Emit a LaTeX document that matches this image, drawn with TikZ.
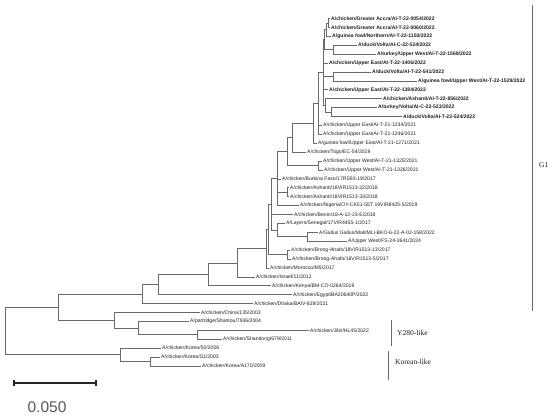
\documentclass[tikz,border=0pt]{standalone}
\usepackage{fontspec}
\setmainfont{Liberation Sans}
\newfontfamily\cladefont{Liberation Serif}
\definecolor{brc}{RGB}{105,105,105}
\definecolor{txc}{RGB}{30,30,30}
\begin{document}
\begin{tikzpicture}[x=1pt,y=-1pt,
  br/.style={draw=brc,line width=0.7pt},
  leaf/.style={anchor=west,inner xsep=1.5pt,inner ysep=0pt,text=txc,font=\fontsize{5.1}{6}\selectfont},
  bleaf/.style={leaf,font=\fontsize{5.1}{6}\selectfont\bfseries},
  cladebar/.style={draw=brc,line width=0.8pt},
  cladelab/.style={anchor=west,inner sep=0pt,text=txc,font=\cladefont\fontsize{7.5}{9}\selectfont}]
\useasboundingbox (0,0) rectangle (550,418);
% leaves
\node[bleaf] (l1) at (329.5,18.5) {A/chicken/Greater Accra/AI-T-22-0054/2022};
\node[bleaf] (l2) at (329.5,27.4) {A/chicken/Greater Accra/AI-T-22-0060/2022};
\node[bleaf] (l3) at (330.5,36.3) {A/guinea fowl/Northern/AI-T-22-1150/2022};
\node[bleaf] (l4) at (356.5,45.2) {A/duck/Volta/AI-C-22-524/2022};
\node[bleaf] (l5) at (375.5,54.1) {A/turkey/Upper West/AI-T-22-1569/2022};
\node[bleaf] (l6) at (327.5,63.1) {A/chicken/Upper East/AI-T-22-1406/2022};
\node[bleaf] (l7) at (370.5,72.0) {A/duck/Volta/AI-T-22-541/2022};
\node[bleaf] (l8) at (416.5,80.9) {A/guinea fowl/Upper West/AI-T-22-1529/2022};
\node[bleaf] (l9) at (327.5,89.8) {A/chicken/Upper East/AI-T-22-1384/2022};
\node[bleaf] (l10) at (381.5,98.7) {A/chicken/Ashanti/AI-T-22-856/2022};
\node[bleaf] (l11) at (376.5,107.6) {A/turkey/Volta/AI-C-22-523/2022};
\node[bleaf] (l12) at (401.5,116.5) {A/duck/Volta/AI-T-22-524/2022};
\node[leaf] (l13) at (321.5,125.4) {A/chicken/Upper East/AI-T-21-1234/2021};
\node[leaf] (l14) at (321.5,134.3) {A/chicken/Upper East/AI-T-21-1246/2021};
\node[leaf] (l15) at (316.5,143.3) {A/guinea fowl/Upper East/AI-T-21-1271/2021};
\node[leaf] (l16) at (305.5,152.2) {A/chicken/Togo/EC-54/2019};
\node[leaf] (l17) at (321.5,161.1) {A/chicken/Upper West/AI-T-21-1325/2021};
\node[leaf] (l18) at (322.5,170.0) {A/chicken/Upper West/AI-T-21-1326/2021};
\node[leaf] (l19) at (280.5,178.9) {A/chicken/Burkina Faso/17RS93-19/2017};
\node[leaf] (l20) at (288.5,187.8) {A/chicken/Ashanti/18VIR1513-22/2018};
\node[leaf] (l21) at (288.5,196.7) {A/chicken/Ashanti/18VIR1513-33/2018};
\node[leaf] (l22) at (298.5,205.6) {A/chicken/Nigeria/OY-CK51-55T 19VIR8425-5/2019};
\node[leaf] (l23) at (292.5,214.5) {A/chicken/Benin/18-A-12-23-E/2018};
\node[leaf] (l24) at (284.5,223.4) {A/Layers/Senegal/17VIR4455-1/2017};
\node[leaf] (l25) at (317.5,232.3) {A/Gallus Gallus/Mali/MLI-BKO-6-22-A-02-158/2022};
\node[leaf] (l26) at (346.5,241.2) {A/Upper West/FS-24-2641/2024};
\node[leaf] (l27) at (289.5,250.1) {A/chicken/Brong-Ahafo/18VIR1513-13/2017};
\node[leaf] (l28) at (290.5,259.0) {A/chicken/Brong-Ahafo/18VIR1513-5/2017};
\node[leaf] (l29) at (268.5,268.0) {A/chicken/Morocco/M5/2017};
\node[leaf] (l30) at (254.5,277.0) {A/chicken/Israel/11/2012};
\node[leaf] (l31) at (270.5,285.8) {A/chicken/Kenya/BM-CO-0264/2019};
\node[leaf] (l32) at (291.5,294.7) {A/chicken/Egypt/BA20640P/2022};
\node[leaf] (l33) at (252.5,303.6) {A/chicken/Dhaka/BAIV-829/2021};
\node[leaf] (l34) at (199.5,312.5) {A/chicken/China/135/2003};
\node[leaf] (l35) at (188.5,321.4) {A/partridge/Shantou/7936/2004};
\node[leaf] (l36) at (308.5,330.3) {A/chicken/Jilin/HL45/2022};
\node[leaf] (l37) at (221.5,339.2) {A/chicken/Shandong/679/2011};
\node[leaf] (l38) at (160.5,348.1) {A/chicken/Korea/50/2006};
\node[leaf] (l39) at (159.5,357.0) {A/chicken/Korea/S1/2003};
\node[leaf] (l40) at (200.5,366.0) {A/chicken/Korea/A170/2009};
% internal nodes
\coordinate (N1) at (328,23.0);
\coordinate (N2) at (326,29.6);
\coordinate (N3) at (333,49.6);
\coordinate (N4) at (324,39.6);
\coordinate (N5) at (333,76.5);
\coordinate (N6) at (331,112.0);
\coordinate (N7) at (325,105.4);
\coordinate (N8) at (323,72.5);
\coordinate (R2) at (318,103.4);
\coordinate (R1) at (313,123.3);
\coordinate (T1) at (292,137.8);
\coordinate (UW) at (318,165.5);
\coordinate (T2) at (287,151.7);
\coordinate (AS) at (287,192.3);
\coordinate (P1) at (277,178.6);
\coordinate (MU) at (307,236.8);
\coordinate (LS) at (277,230.1);
\coordinate (Q1) at (271,204.4);
\coordinate (BA) at (287,254.6);
\coordinate (Q2) at (268,229.5);
\coordinate (Q3) at (266,248.8);
\coordinate (E) at (237,262.9);
\coordinate (D) at (208,274.4);
\coordinate (C) at (158,284.6);
\coordinate (B) at (142,294.1);
\coordinate (H) at (197,334.75);
\coordinate (G) at (138,328.1);
\coordinate (Y) at (114,320.3);
\coordinate (A) at (58,307.2);
\coordinate (I) at (150,361.5);
\coordinate (K) at (120,354.8);
\coordinate (root) at (5,331);
% branches
\draw[br] (N1) |- (l1.west) (N1) |- (l2.west);
\draw[br] (N2) |- (N1) (N2) |- (l3.west);
\draw[br] (N3) |- (l4.west) (N3) |- (l5.west);
\draw[br] (N4) |- (N2) (N4) |- (N3);
\draw[br] (N5) |- (l7.west) (N5) |- (l8.west);
\draw[br] (N6) |- (l11.west) (N6) |- (l12.west);
\draw[br] (N7) |- (l10.west) (N7) |- (N6);
\draw[br] (N8) |- (N4) (N8) |- (l6.west) (N8) |- (N5) (N8) |- (l9.west) (N8) |- (N7);
\draw[br] (R2) |- (N8) (R2) |- (l13.west) (R2) |- (l14.west);
\draw[br] (R1) |- (R2) (R1) |- (l15.west);
\draw[br] (T1) |- (R1) (T1) |- (l16.west);
\draw[br] (UW) |- (l17.west) (UW) |- (l18.west);
\draw[br] (T2) |- (T1) (T2) |- (UW);
\draw[br] (AS) |- (l20.west) (AS) |- (l21.west);
\draw[br] (P1) |- (T2) (P1) |- (l19.west) (P1) |- (AS) (P1) |- (l22.west);
\draw[br] (MU) |- (l25.west) (MU) |- (l26.west);
\draw[br] (LS) |- (l24.west) (LS) |- (MU);
\draw[br] (Q1) |- (P1) (Q1) |- (l23.west) (Q1) |- (LS);
\draw[br] (BA) |- (l27.west) (BA) |- (l28.west);
\draw[br] (Q2) |- (Q1) (Q2) |- (BA);
\draw[br] (Q3) |- (Q2) (Q3) |- (l29.west);
\draw[br] (E) |- (Q3) (E) |- (l30.west);
\draw[br] (D) |- (E) (D) |- (l31.west);
\draw[br] (C) |- (D) (C) |- (l32.west);
\draw[br] (B) |- (C) (B) |- (l33.west);
\draw[br] (H) |- (l36.west) (H) |- (l37.west);
\draw[br] (G) |- (l35.west) (G) |- (H);
\draw[br] (Y) |- (l34.west) (Y) |- (G);
\draw[br] (A) |- (B) (A) |- (Y);
\draw[br] (I) |- (l39.west) (I) |- (l40.west);
\draw[br] (K) |- (l38.west) (K) |- (I);
\draw[br] (root) |- (A) (root) |- (K);
% clade bars
\coordinate (g1t) at (532,5);
\coordinate (g1b) at (532,311);
\draw[cladebar] (g1t) -- (g1b);
\node[cladelab] (g1) at (539,165) {G1};
\coordinate (yt) at (391,320);
\coordinate (yb) at (391,346);
\draw[cladebar] (yt) -- (yb);
\node[cladelab] (ylab) at (397,333) {Y280-like};
\coordinate (kt) at (388,351);
\coordinate (kb) at (388,380);
\draw[cladebar] (kt) -- (kb);
\node[cladelab] (klab) at (395,362) {Korean-like};
% scale bar
\coordinate (s1) at (14,383);
\coordinate (s2) at (96,383);
\draw[line width=1.4pt,draw=black!85] (s1) -- (s2);
\draw[line width=1.2pt,draw=black!85] ([yshift=-2.6pt]s1) -- ([yshift=2.6pt]s1);
\draw[line width=1.2pt,draw=black!85] ([yshift=-2.6pt]s2) -- ([yshift=2.6pt]s2);
\node[text=black!65,font=\fontsize{15.5}{18}\selectfont,inner sep=0pt] (sl) at (47,407) {0.050};
\end{tikzpicture}
\end{document}
